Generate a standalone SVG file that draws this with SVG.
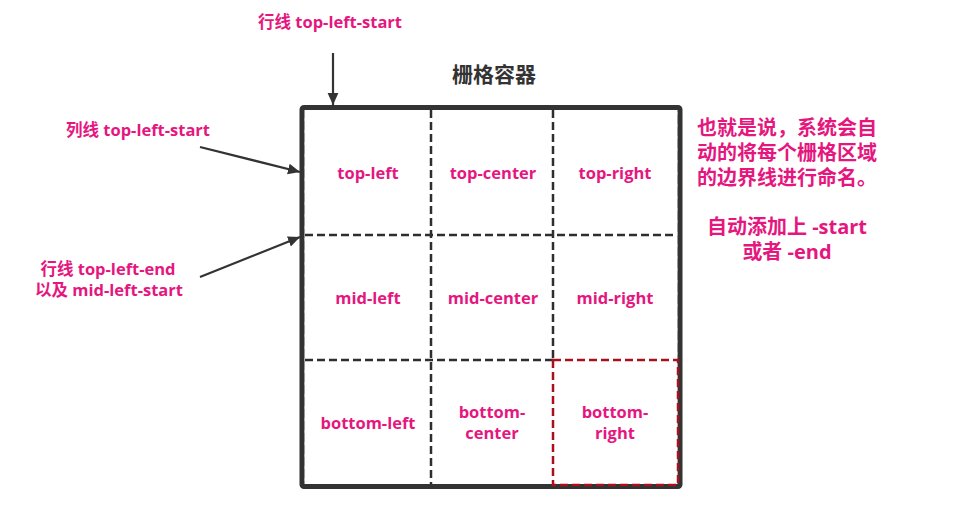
<svg xmlns="http://www.w3.org/2000/svg" width="977" height="522" viewBox="0 0 977 522">
<defs>
<style>
.lbl{font-family:"Open Sans","Noto Sans CJK SC",sans-serif;font-weight:bold;fill:#e5177f;text-anchor:middle}
.cell{font-size:16.5px}
.side{font-size:16.5px}
.note{font-size:20px;font-family:"Noto Sans CJK SC","Open Sans",sans-serif}
.note2{font-size:20px}
.title{font-family:"Noto Sans CJK SC",sans-serif;font-weight:bold;font-size:21px;fill:#333;text-anchor:middle}
.grid{stroke:#2e2e2e;stroke-width:2.5;stroke-dasharray:8 4;fill:none}
.arrow{stroke:#333;stroke-width:2.2;fill:none}
</style>
<marker id="ah" viewBox="0 0 10 10" refX="10" refY="5" markerWidth="12" markerHeight="12" markerUnits="userSpaceOnUse" orient="auto">
<path d="M0,0.5 L10,5 L0,9.5 Z" fill="#333"/>
</marker>
</defs>
<rect width="977" height="522" fill="#fff"/>
<text class="title" x="494" y="82">栅格容器</text>
<g id="container">
<rect x="302" y="107.5" width="378" height="379" rx="2" fill="#fff" stroke="#333" stroke-width="5"/>
<rect x="305.5" y="111" width="371" height="372" fill="none" stroke="#fff" stroke-width="1.5" stroke-dasharray="3 9"/>
</g>
<g id="gridlines">
<line class="grid" x1="431" y1="110" x2="431" y2="484"/>
<line class="grid" x1="553" y1="110" x2="553" y2="360"/>
<line class="grid" x1="305" y1="235" x2="677" y2="235"/>
<line class="grid" x1="305" y1="360" x2="553" y2="360"/>
</g>
<g id="cell-bottom-right">
<rect x="553" y="360" width="125" height="125" fill="none" stroke="#a8101e" stroke-width="2.5" stroke-dasharray="8 4"/>
<text class="lbl cell" x="615" y="418">bottom-<tspan x="615" y="439">right</tspan></text>
</g>
<g id="cell-top-left"><text class="lbl cell" x="368" y="179">top-left</text></g>
<g id="cell-top-center"><text class="lbl cell" x="493" y="179">top-center</text></g>
<g id="cell-top-right"><text class="lbl cell" x="615" y="179">top-right</text></g>
<g id="cell-mid-left"><text class="lbl cell" x="368" y="304">mid-left</text></g>
<g id="cell-mid-center"><text class="lbl cell" x="493" y="304">mid-center</text></g>
<g id="cell-mid-right"><text class="lbl cell" x="615" y="304">mid-right</text></g>
<g id="cell-bottom-left"><text class="lbl cell" x="368" y="429">bottom-left</text></g>
<g id="cell-bottom-center">
<text class="lbl cell" x="492" y="418">bottom-<tspan x="492" y="439">center</tspan></text>
</g>
<g id="label-row-top"><text class="lbl side" x="330" y="28">行线 top-left-start</text></g>
<g id="label-col-left"><text class="lbl side" x="138" y="136">列线 top-left-start</text></g>
<g id="label-row-mid">
<text class="lbl side" x="108" y="275">行线 top-left-end<tspan x="109" y="296">以及 mid-left-start</tspan></text>
</g>
<g id="note">
<text class="lbl note" x="787" y="135">也就是说，系统会自<tspan x="787" y="160">动的将每个栅格区域</tspan><tspan x="787" y="185">的边界线进行命名。</tspan></text>
<text class="lbl note2" x="787" y="234">自动添加上 -start<tspan x="787" y="259">或者 -end</tspan></text>
</g>
<g id="connectors">
<line class="arrow" x1="333" y1="53" x2="333" y2="105" marker-end="url(#ah)"/>
<line class="arrow" x1="200" y1="147" x2="300" y2="172" marker-end="url(#ah)"/>
<line class="arrow" x1="200" y1="277" x2="300" y2="237" marker-end="url(#ah)"/>
</g>
</svg>
